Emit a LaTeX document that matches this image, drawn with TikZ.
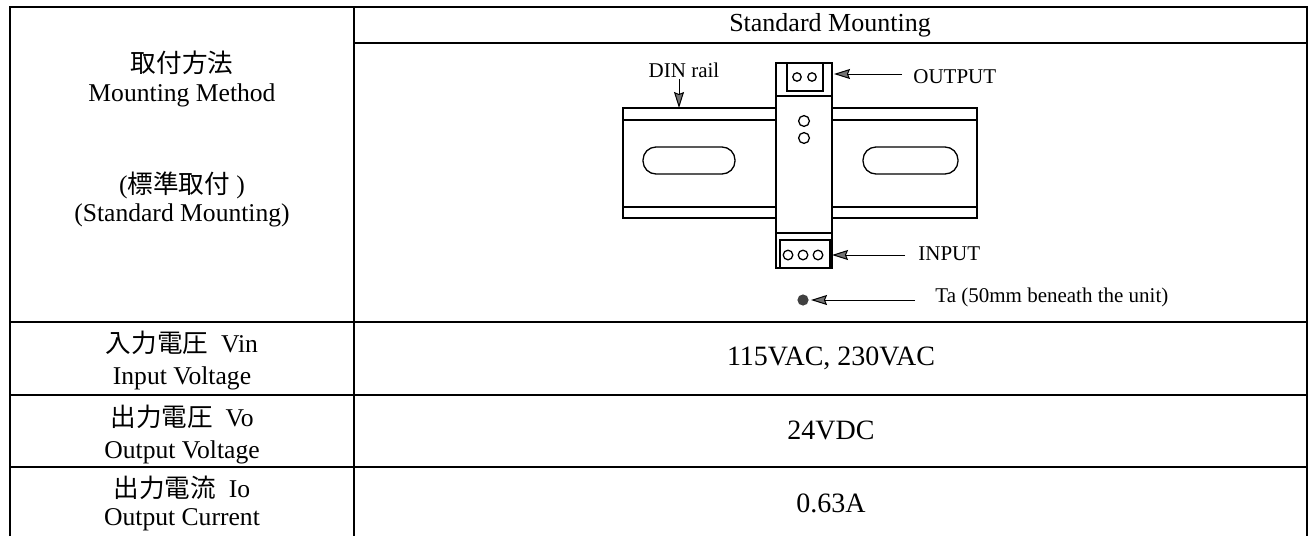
\documentclass[tikz,border=0pt]{standalone}
\usepackage{fontspec}
\setmainfont{Liberation Serif}
\newfontfamily\cjk{Noto Sans CJK JP}
\usetikzlibrary{arrows.meta}
\begin{document}
\begin{tikzpicture}[x=0.5pt,y=-0.5pt,
  grid/.style={line width=0.9pt},
  part/.style={line width=0.65pt},
  ptr/.style={line width=0.5pt,-{Stealth[length=8pt,width=5pt,inset=1pt,fill=black!55]}},
  lbl/.style={font=\fontsize{10.5}{12}\selectfont, inner sep=0pt},
  hd/.style={font=\fontsize{13}{15}\selectfont, inner sep=0pt},
  lc/.style={font=\fontsize{12.8}{15}\selectfont, inner sep=0pt},
  val/.style={font=\fontsize{14}{16}\selectfont, inner sep=0pt}]
\useasboundingbox (0,0) rectangle (1310,536);
% table grid
\draw[grid] (10,536) -- (10,7) -- (1307,7) -- (1307,536);
\draw[grid] (354,7) -- (354,536);
\draw[grid] (354,43) -- (1307,43);
\draw[grid] (10,322) -- (1307,322);
\draw[grid] (10,395) -- (1307,395);
\draw[grid] (10,467) -- (1307,467);
% header and left column
\node[hd] (hdr) at (830,25) {Standard Mounting};
\node[lc] (m1) at (182,63) {\cjk 取付方法};
\node[lc] (m2) at (182,95) {Mounting Method};
\node[lc] (m3) at (182,185) {({\cjk 標準取付} )};
\node[lc] (m4) at (182,215) {(Standard Mounting)};
\node[lc] (vin1) at (182,343) {{\cjk 入力電圧}\ \ Vin};
\node[lc] (vin2) at (182,378) {Input Voltage};
\node[lc] (vo1) at (182,417) {{\cjk 出力電圧}\ \ Vo};
\node[lc] (vo2) at (182,452) {Output Voltage};
\node[lc] (io1) at (182,488) {{\cjk 出力電流}\ \ Io};
\node[lc] (io2) at (182,520) {Output Current};
% values
\node[val] (v1) at (831,358) {115VAC, 230VAC};
\node[val] (v2) at (831,430) {24VDC};
\node[val] (v3) at (831,503) {0.63A};
% DIN rail
\draw[part] (623,108) rectangle (977,218);
\draw[part] (623,120) -- (977,120);
\draw[part] (623,207) -- (977,207);
\draw[part, rounded corners=6.5pt] (643,147) rectangle (735,174);
\draw[part, rounded corners=6.5pt] (863,147) rectangle (958,174);
% module
\draw[part, fill=white] (776,63) rectangle (832,268);
\draw[part] (776,96) -- (832,96);
\draw[part] (787,63) -- (787,91) -- (823,91) -- (823,63);
\draw[part] (797,77) circle (2.1pt);
\draw[part] (812,77) circle (2.1pt);
\draw[part] (804,121) circle (2.7pt);
\draw[part] (804,138) circle (2.7pt);
\draw[part] (776,233) -- (832,233);
\draw[part] (780,240) rectangle (830,268);
\draw[part] (788,255) circle (2.4pt);
\draw[part] (803,255) circle (2.4pt);
\draw[part] (818,255) circle (2.4pt);
\fill[black!75] (803,300) circle (2.8pt);
% labels and pointers
\node[lbl] (din) at (684,70) {DIN rail};
\coordinate (dinT) at (679,108);
\draw[ptr] (679,79) -- (dinT);
\node[lbl, anchor=west] (outl) at (913,77) {OUTPUT};
\coordinate (outT) at (834,74);
\draw[ptr] ([xshift=-5.5pt]outl.west |- outT) -- (outT);
\node[lbl, anchor=west] (inl) at (918,254) {INPUT};
\coordinate (inT) at (832,255);
\draw[ptr] ([xshift=-6.5pt]inl.west |- inT) -- (inT);
\node[lbl, anchor=west] (tal) at (935,297) {Ta (50mm beneath the unit)};
\coordinate (taT) at (811,300);
\draw[ptr] ([xshift=-10pt]tal.west |- taT) -- (taT);
\end{tikzpicture}
\end{document}
